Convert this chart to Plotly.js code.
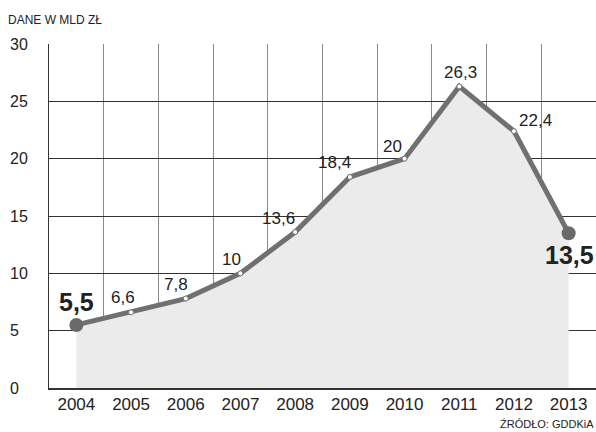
<!DOCTYPE html>
<html>
<head>
<meta charset="utf-8">
<script src="https://cdn.plot.ly/plotly-3.0.1.min.js"></script>
<style>html,body{margin:0;padding:0;background:#fff;}#chart{width:596px;height:432px;}</style>
</head>
<body>
<div id="chart"></div>
<script>
const years = ["2004","2005","2006","2007","2008","2009","2010","2011","2012","2013"];
const values = [5.5, 6.6, 7.8, 10, 13.6, 18.4, 20, 26.3, 22.4, 13.5];
const yTicks = [0, 5, 10, 15, 20, 25, 30];
const unitLabel = "DANE W MLD ZŁ";
const sourceLabel = "ŹRÓDŁO: GDDKiA";

// label offsets (px) relative to each point: [xshift, yshift]
const labelShift = [[0,23],[-8,15],[-10,14],[-9,14],[-17,14],[-15,15],[-12,12],[1,14],[22,11],[1,-22]];

const FONT = "'Liberation Sans Narrow', 'Arial Narrow', 'Liberation Sans', Arial, sans-serif";
const TXT = "#222222";
const last = values.length - 1;

const fmt = v => String(v).replace('.', ',');

const trace = {
  type: 'scatter',
  mode: 'lines+markers',
  x: years,
  y: values,
  fill: 'tozeroy',
  fillcolor: '#ebebeb',
  line: {color: '#707070', width: 5},
  marker: {
    opacity: 1,
    size: values.map((v, i) => (i === 0 || i === last) ? 14 : 5),
    color: values.map((v, i) => (i === 0 || i === last) ? '#6a6a6a' : '#ffffff'),
    line: {color: '#707070', width: values.map((v, i) => (i === 0 || i === last) ? 0 : 1)}
  },
  hoverinfo: 'skip'
};

const annotations = values.map((v, i) => {
  const big = (i === 0 || i === last);
  return {
    x: i, y: v, xref: 'x', yref: 'y',
    text: big ? '<b>' + fmt(v) + '</b>' : fmt(v),
    showarrow: false,
    xshift: labelShift[i][0], yshift: labelShift[i][1],
    font: {family: FONT, size: big ? 25 : 17, color: TXT}
  };
});

yTicks.forEach(t => {
  annotations.push({
    x: -0.075, xref: 'paper', y: t, yref: 'y',
    xanchor: 'left', yanchor: 'middle',
    text: String(t), showarrow: false,
    font: {family: FONT, size: 16, color: TXT}
  });
});

annotations.push({
  x: 1, xref: 'paper', xanchor: 'right',
  y: -0.105, yref: 'paper', yanchor: 'middle',
  text: sourceLabel, showarrow: false,
  font: {family: FONT, size: 11, color: TXT}
});

const layout = {
  width: 596, height: 432,
  margin: {l: 49, r: 0, t: 44, b: 44},
  paper_bgcolor: '#ffffff',
  plot_bgcolor: '#ffffff',
  showlegend: false,
  title: {
    text: unitLabel,
    x: 8/596, xanchor: 'left', xref: 'container',
    y: 1 - 20/432, yanchor: 'middle', yref: 'container',
    font: {family: FONT, size: 12, color: TXT}
  },
  xaxis: {
    type: 'category',
    range: [-0.5, 9.5],
    tickson: 'boundaries',
    showgrid: true,
    gridcolor: '#8a8a8a',
    gridwidth: 1,
    ticks: '',
    showline: true,
    linecolor: '#333333',
    linewidth: 1.5,
    tickfont: {family: FONT, size: 17, color: TXT},
    zeroline: false,
    fixedrange: true
  },
  yaxis: {
    range: [0, 30],
    tickvals: yTicks,
    showticklabels: false,
    showgrid: true,
    gridcolor: '#333333',
    gridwidth: 1,
    showline: true,
    linecolor: '#333333',
    linewidth: 1.5,
    zeroline: false,
    ticks: '',
    fixedrange: true
  },
  annotations: annotations
};

Plotly.newPlot('chart', [trace], layout, {staticPlot: true, displayModeBar: false});
</script>
</body>
</html>
